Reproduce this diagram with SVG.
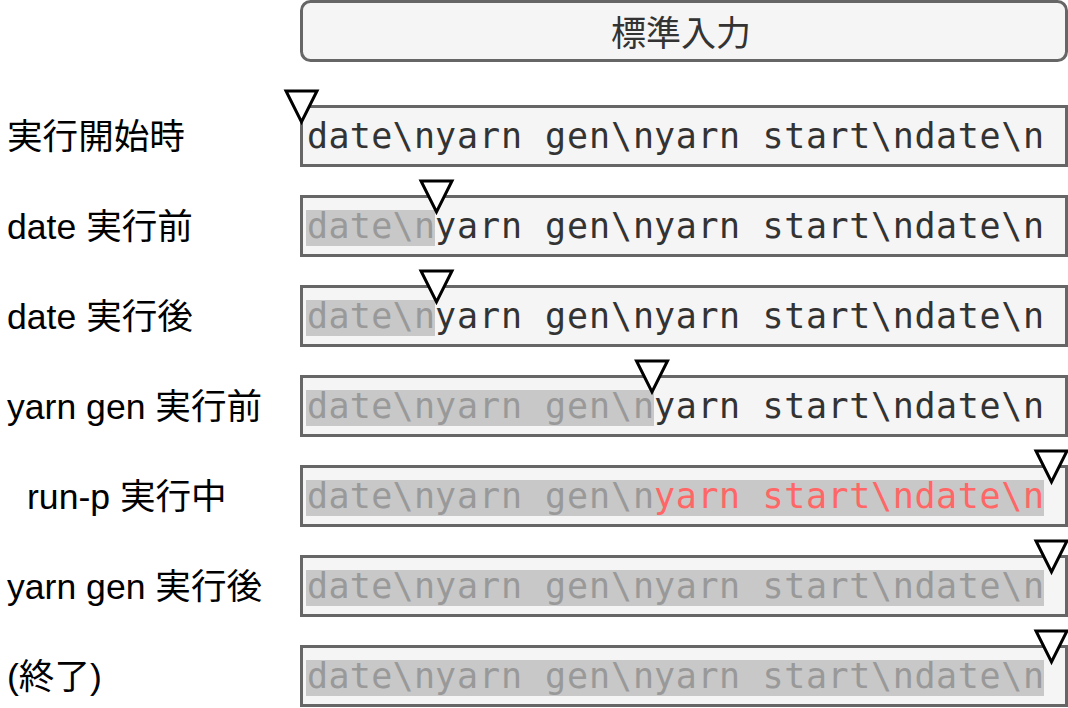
<svg xmlns="http://www.w3.org/2000/svg" width="1068" height="708" viewBox="0 0 1068 708">
<style>
.box{fill:#f5f5f5;stroke:#666666;stroke-width:3}
.hl{fill:#c8c8c8}
.mono{font-family:"DejaVu Sans Mono","Liberation Mono",monospace;font-size:35px}
.dk{fill:#333333}
.gr{fill:#999999}
.rd{fill:#ff6666}
.lbl{font-family:"Liberation Sans","Noto Sans CJK JP",sans-serif;font-size:35.6px;fill:#000000}
.tri{fill:#ffffff;stroke:#000000;stroke-width:3;stroke-linejoin:miter}
</style>
<rect width="1068" height="708" fill="#ffffff"/>
<g id="stdin">
<rect class="box" x="301.5" y="1.5" width="765" height="59" rx="9"/>
<text x="681" y="46" text-anchor="middle" style="font-family:'Noto Sans CJK JP','Liberation Sans',sans-serif;font-size:35px;fill:#333333">標準入力</text>
</g>
<g id="connectors"></g>
<g id="row1">
<text class="lbl" x="7" y="149">実行開始時</text>
<rect class="box" x="301.5" y="106.5" width="765" height="59"/>
<text class="mono dk" y="148"><tspan x="307" textLength="128" lengthAdjust="spacing">date\n</tspan><tspan x="435" textLength="219" lengthAdjust="spacing">yarn gen\n</tspan><tspan x="654" textLength="390" lengthAdjust="spacing">yarn start\ndate\n</tspan></text>
<polygon class="tri" points="286,91 317,91 301.5,122"/>
</g>
<g id="row2">
<text class="lbl" x="7" y="239">date 実行前</text>
<rect class="box" x="301.5" y="196.5" width="765" height="59"/>
<rect class="hl" x="306" y="210" width="129" height="36"/>
<text class="mono" y="238"><tspan class="gr" x="307" textLength="128" lengthAdjust="spacing">date\n</tspan><tspan class="dk" x="435" textLength="219" lengthAdjust="spacing">yarn gen\n</tspan><tspan class="dk" x="654" textLength="390" lengthAdjust="spacing">yarn start\ndate\n</tspan></text>
<polygon class="tri" points="421,181 452,181 436.5,212"/>
</g>
<g id="row3">
<text class="lbl" x="7" y="329">date 実行後</text>
<rect class="box" x="301.5" y="286.5" width="765" height="59"/>
<rect class="hl" x="306" y="300" width="129" height="36"/>
<text class="mono" y="328"><tspan class="gr" x="307" textLength="128" lengthAdjust="spacing">date\n</tspan><tspan class="dk" x="435" textLength="219" lengthAdjust="spacing">yarn gen\n</tspan><tspan class="dk" x="654" textLength="390" lengthAdjust="spacing">yarn start\ndate\n</tspan></text>
<polygon class="tri" points="421,271 452,271 436.5,302"/>
</g>
<g id="row4">
<text class="lbl" x="7" y="419">yarn gen 実行前</text>
<rect class="box" x="301.5" y="376.5" width="765" height="59"/>
<rect class="hl" x="306" y="390" width="348" height="36"/>
<text class="mono" y="418"><tspan class="gr" x="307" textLength="128" lengthAdjust="spacing">date\n</tspan><tspan class="gr" x="435" textLength="219" lengthAdjust="spacing">yarn gen\n</tspan><tspan class="dk" x="654" textLength="390" lengthAdjust="spacing">yarn start\ndate\n</tspan></text>
<polygon class="tri" points="636.5,361 667.5,361 652,392"/>
</g>
<g id="row5">
<text class="lbl" x="27" y="509">run-p 実行中</text>
<rect class="box" x="301.5" y="466.5" width="765" height="59"/>
<rect class="hl" x="306" y="480" width="738" height="36"/>
<text class="mono" y="508"><tspan class="gr" x="307" textLength="128" lengthAdjust="spacing">date\n</tspan><tspan class="gr" x="435" textLength="219" lengthAdjust="spacing">yarn gen\n</tspan><tspan class="rd" x="654" textLength="390" lengthAdjust="spacing">yarn start\ndate\n</tspan></text>
<polygon class="tri" points="1036,451 1067,451 1051.5,482"/>
</g>
<g id="row6">
<text class="lbl" x="7" y="599">yarn gen 実行後</text>
<rect class="box" x="301.5" y="556.5" width="765" height="59"/>
<rect class="hl" x="306" y="570" width="738" height="36"/>
<text class="mono gr" y="598"><tspan x="307" textLength="128" lengthAdjust="spacing">date\n</tspan><tspan x="435" textLength="219" lengthAdjust="spacing">yarn gen\n</tspan><tspan x="654" textLength="390" lengthAdjust="spacing">yarn start\ndate\n</tspan></text>
<polygon class="tri" points="1036,541 1067,541 1051.5,572"/>
</g>
<g id="row7">
<text class="lbl" x="7" y="689">(終了)</text>
<rect class="box" x="301.5" y="646.5" width="765" height="59"/>
<rect class="hl" x="306" y="660" width="738" height="36"/>
<text class="mono gr" y="688"><tspan x="307" textLength="128" lengthAdjust="spacing">date\n</tspan><tspan x="435" textLength="219" lengthAdjust="spacing">yarn gen\n</tspan><tspan x="654" textLength="390" lengthAdjust="spacing">yarn start\ndate\n</tspan></text>
<polygon class="tri" points="1036,631 1067,631 1051.5,662"/>
</g>
</svg>
